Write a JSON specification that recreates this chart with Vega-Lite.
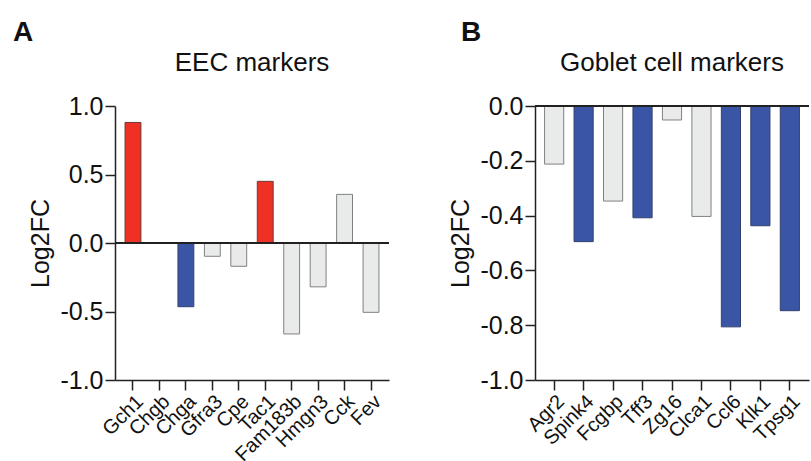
{
  "$schema": "https://vega.github.io/schema/vega-lite/v6.json",
  "background": "white",
  "padding": {"left": 12, "top": 19, "right": 0, "bottom": 0},
  "autosize": {"type": "pad"},
  "config": {
    "font": "Liberation Sans",
    "view": {"stroke": null},
    "axis": {"domainColor": "#222", "domainWidth": 1.5, "tickColor": "#222", "tickWidth": 1.5, "grid": false, "labelColor": "#111", "titleColor": "#111", "labelFont": "Liberation Sans", "titleFont": "Liberation Sans"},
    "title": {"font": "Liberation Sans", "color": "#111"},
    "concat": {"spacing": 58}
  },
  "datasets": {
    "eec": [
      {"gene": "Gch1", "log2fc": 0.88, "group": "up"},
      {"gene": "Chgb", "log2fc": 0.0, "group": "ns"},
      {"gene": "Chga", "log2fc": -0.465, "group": "down"},
      {"gene": "Gfra3", "log2fc": -0.097, "group": "ns"},
      {"gene": "Cpe", "log2fc": -0.17, "group": "ns"},
      {"gene": "Tac1", "log2fc": 0.45, "group": "up"},
      {"gene": "Fam183b", "log2fc": -0.664, "group": "ns"},
      {"gene": "Hmgn3", "log2fc": -0.32, "group": "ns"},
      {"gene": "Cck", "log2fc": 0.355, "group": "ns"},
      {"gene": "Fev", "log2fc": -0.506, "group": "ns"}
    ],
    "goblet": [
      {"gene": "Agr2", "log2fc": -0.212, "group": "ns"},
      {"gene": "Spink4", "log2fc": -0.495, "group": "down"},
      {"gene": "Fcgbp", "log2fc": -0.347, "group": "ns"},
      {"gene": "Tff3", "log2fc": -0.408, "group": "down"},
      {"gene": "Zg16", "log2fc": -0.051, "group": "ns"},
      {"gene": "Clca1", "log2fc": -0.403, "group": "ns"},
      {"gene": "Ccl6", "log2fc": -0.806, "group": "down"},
      {"gene": "Klk1", "log2fc": -0.437, "group": "down"},
      {"gene": "Tpsg1", "log2fc": -0.747, "group": "down"}
    ]
  },
  "hconcat": [
    {
      "title": {"text": "A", "anchor": "start", "fontSize": 28, "fontWeight": "bold", "dx": -16, "offset": 3},
      "hconcat": [
        {
          "data": {"name": "eec"},
          "title": {"text": "EEC markers", "fontSize": 26, "fontWeight": "normal", "offset": 18},
          "width": 274,
          "height": 274,
          "layer": [
            {
              "mark": {"type": "bar", "strokeWidth": 1},
              "encoding": {
                "x": {"field": "gene", "type": "nominal", "sort": null, "scale": {"paddingInner": 0.4, "paddingOuter": 0.38}, "axis": {"title": null, "labelAngle": -45, "labelFontSize": 20, "tickSize": 10, "labelPadding": 1}},
                "y": {"field": "log2fc", "type": "quantitative", "scale": {"domain": [-1, 1], "nice": false}, "axis": {"title": "Log2FC", "titleFontSize": 25, "titleFontWeight": "normal", "titlePadding": 6, "labelFontSize": 25, "values": [-1, -0.5, 0, 0.5, 1], "tickSize": 10, "labelPadding": 2, "labelExpr": "replace(format(datum.value, '.1f'), '\u2212', '-')"}},
                "color": {"field": "group", "type": "nominal", "scale": {"domain": ["up", "down", "ns"], "range": ["#ee3124", "#3b55a6", "#e9ebea"]}, "legend": null},
                "stroke": {"field": "group", "type": "nominal", "scale": {"domain": ["up", "down", "ns"], "range": ["#6a3a36", "#33406e", "#808080"]}, "legend": null}
              }
            },
            {"mark": {"type": "rule", "color": "#222", "strokeWidth": 1.5}, "encoding": {"y": {"datum": 0}}}
          ]
        }
      ]
    },
    {
      "title": {"text": "B", "anchor": "start", "fontSize": 28, "fontWeight": "bold", "dx": 12, "offset": 3},
      "hconcat": [
        {
          "data": {"name": "goblet"},
          "title": {"text": "Goblet cell markers", "fontSize": 26, "fontWeight": "normal", "offset": 18},
          "width": 274,
          "height": 274,
          "layer": [
            {
              "mark": {"type": "bar", "strokeWidth": 1},
              "encoding": {
                "x": {"field": "gene", "type": "nominal", "sort": null, "scale": {"paddingInner": 0.35, "paddingOuter": 0.325}, "axis": {"title": null, "labelAngle": -45, "labelFontSize": 20, "tickSize": 10, "labelPadding": 1}},
                "y": {"field": "log2fc", "type": "quantitative", "scale": {"domain": [-1, 0], "nice": false}, "axis": {"title": "Log2FC", "titleFontSize": 25, "titleFontWeight": "normal", "titlePadding": 6, "labelFontSize": 25, "values": [-1, -0.8, -0.6, -0.4, -0.2, 0], "tickSize": 10, "labelPadding": 2, "labelExpr": "replace(format(datum.value, '.1f'), '\u2212', '-')"}},
                "color": {"field": "group", "type": "nominal", "scale": {"domain": ["up", "down", "ns"], "range": ["#ee3124", "#3b55a6", "#e9ebea"]}, "legend": null},
                "stroke": {"field": "group", "type": "nominal", "scale": {"domain": ["up", "down", "ns"], "range": ["#6a3a36", "#33406e", "#808080"]}, "legend": null}
              }
            },
            {"mark": {"type": "rule", "color": "#222", "strokeWidth": 1.5}, "encoding": {"y": {"datum": 0}}}
          ]
        }
      ]
    }
  ]
}
